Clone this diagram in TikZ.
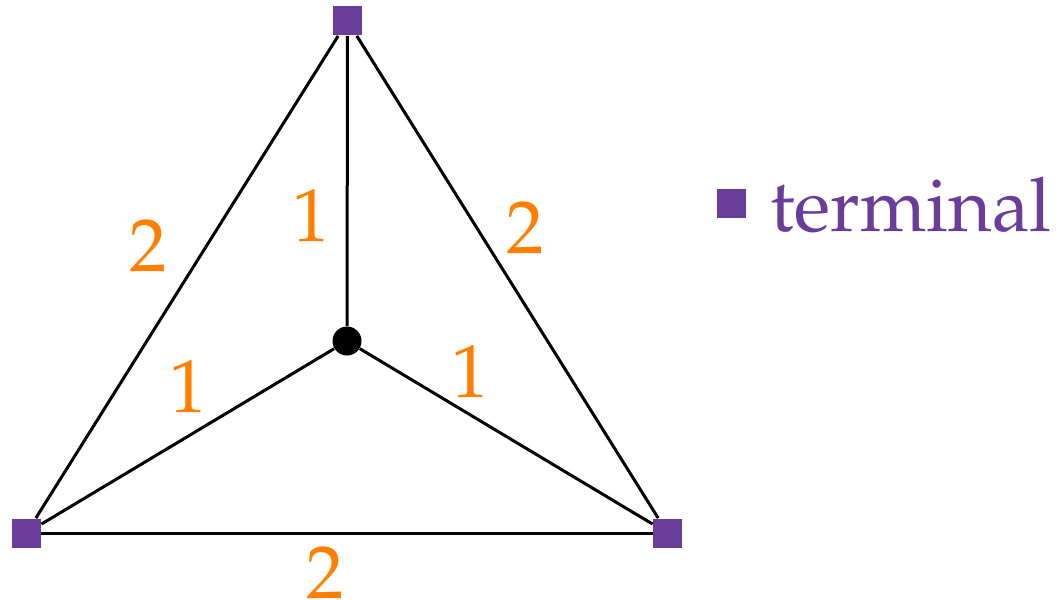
\documentclass[tikz,border=0pt]{standalone}
\usepackage[T1]{fontenc}
\usepackage{mathpazo}
\definecolor{termpurple}{RGB}{106,61,154}
\definecolor{wtorange}{RGB}{255,127,0}
\tikzset{
  term/.style={rectangle, fill=termpurple, draw=none, minimum size=14.5pt, inner sep=0pt},
  hub/.style={circle, fill=black, draw=none, minimum size=14.5pt, inner sep=0pt},
  edge/.style={draw=black, line width=1.5pt},
  wt/.style={text=wtorange, inner sep=0pt, font=\fontsize{37.5}{40}\selectfont},
}
\begin{document}
\begin{tikzpicture}[x=0.5pt,y=-0.5pt]
\useasboundingbox (0,0) rectangle (1058,599);
\node[term] (t) at (347.5,21) {};
\node[term] (l) at (26.5,533) {};
\node[term] (r) at (667.5,533) {};
\node[hub] (c) at (347,341) {};
\draw[edge] (t) -- (l);
\draw[edge] (t) -- (r);
\draw[edge] (l) -- (r);
\draw[edge] (c) -- (t);
\draw[edge] (c) -- (l);
\draw[edge] (c) -- (r);
\node[wt] (w1) at (148,246) {2};
\node[wt] (w2) at (311,216) {1};
\node[wt] (w3) at (525,228) {2};
\node[wt] (w4) at (188,387) {1};
\node[wt] (w5) at (470,372) {1};
\node[wt] (w6) at (325,573) {2};
\node[term] (lg) at (731.5,203) {};
\node[text=termpurple, inner sep=0pt, anchor=base west, font=\fontsize{37.5}{40}\selectfont] (lt) at (770,231) {terminal};
\end{tikzpicture}
\end{document}
